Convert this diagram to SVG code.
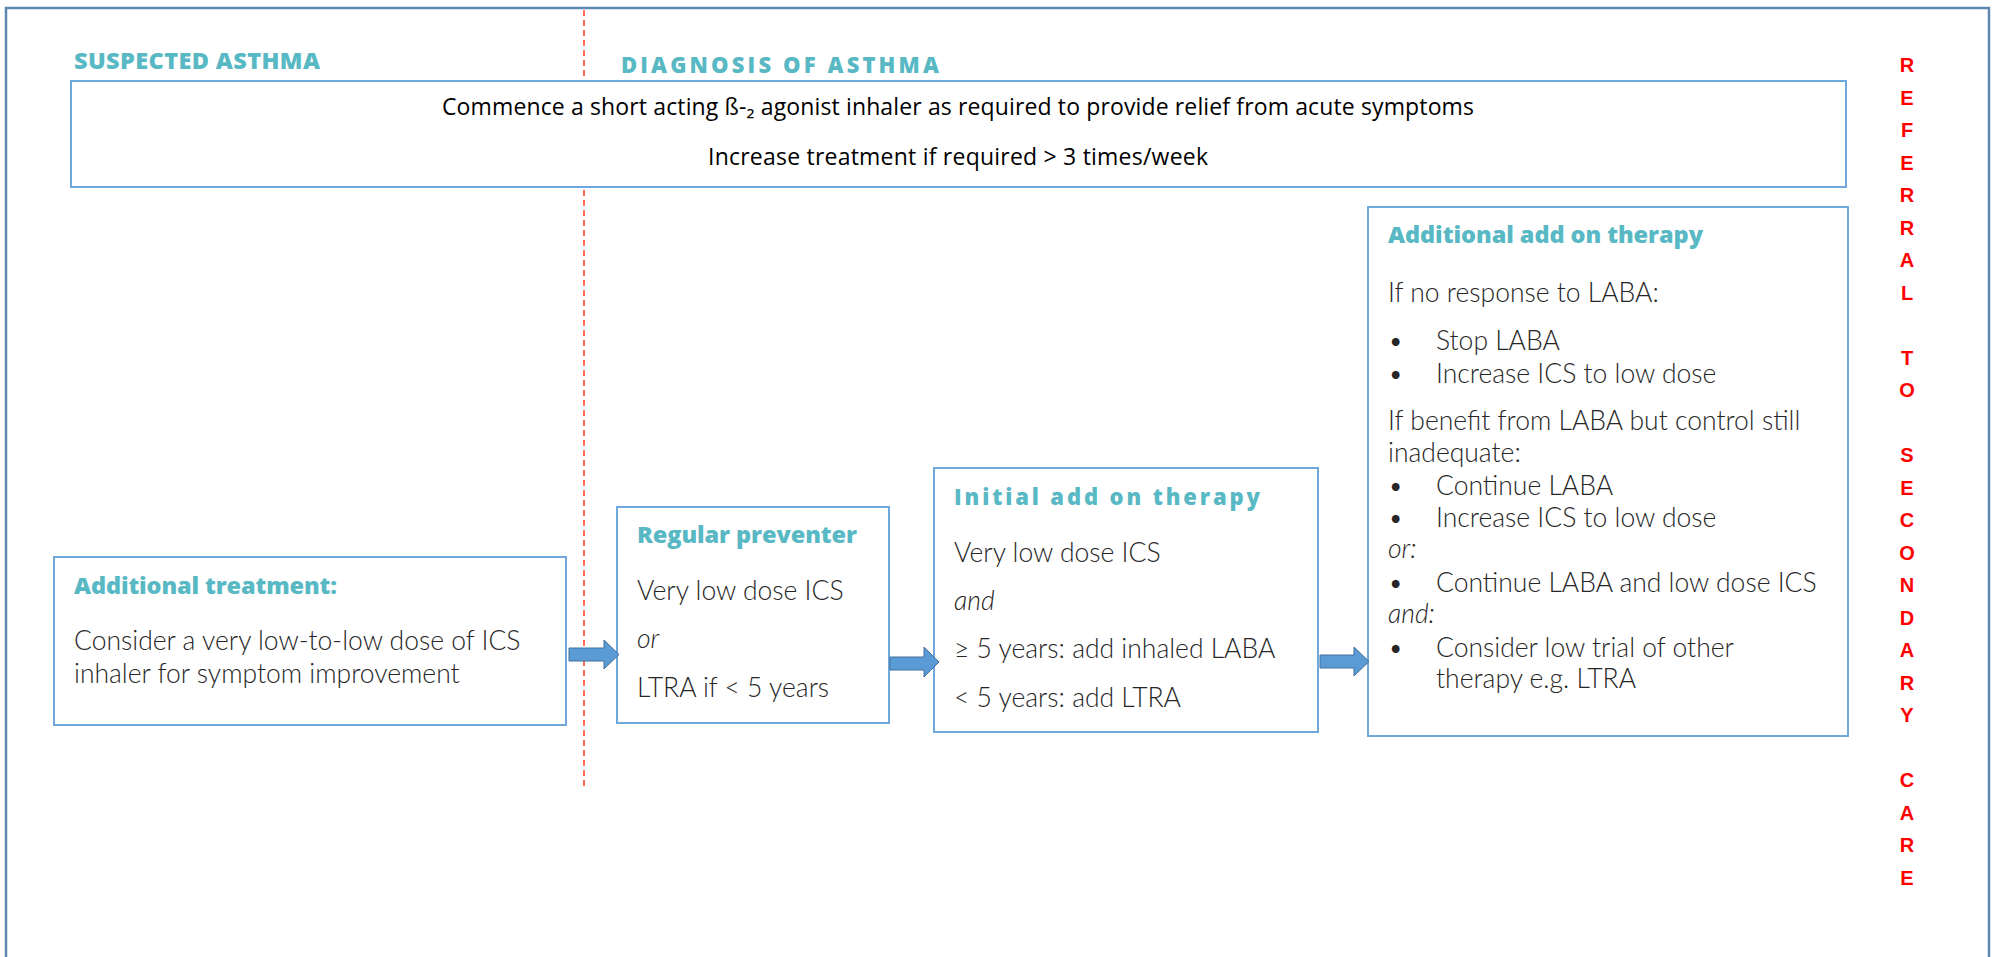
<svg xmlns="http://www.w3.org/2000/svg" width="1995" height="957" viewBox="0 0 1995 957">
<style>
.box{fill:#ffffff;stroke:#6fa8dc;stroke-width:2}
.hd{font-family:"Open Sans","Liberation Sans",sans-serif;font-weight:800;font-size:23.5px;fill:#58b8c4}
.hdw{font-family:"Open Sans","Liberation Sans",sans-serif;font-weight:800;font-size:22px;fill:#58b8c4}
.body{font-family:Lato,"Liberation Sans",sans-serif;font-weight:300;font-size:26.5px;fill:#262626}
.it{font-style:italic}
.top{font-family:"Open Sans","Liberation Sans",sans-serif;font-size:23px;fill:#000000}
.ref{font-family:"Liberation Sans",Arial,sans-serif;font-weight:700;font-size:20px;fill:#ff0000}
.arrow{fill:#5b9bd5;stroke:#41719c;stroke-width:1}
</style>
<rect x="0" y="0" width="1995" height="957" fill="#ffffff"/>
<rect id="frame" x="6" y="8" width="1983" height="960" fill="none" stroke="#5b87b0" stroke-width="2.5"/>
<line id="divider" x1="584" y1="10" x2="584" y2="787" stroke="#ff3b1f" stroke-width="1.5" stroke-dasharray="6,4"/>
<text class="hd" x="74" y="69" textLength="246">SUSPECTED ASTHMA</text>
<text class="hdw" x="621" y="73" textLength="318">DIAGNOSIS OF ASTHMA</text>
<g id="top-box">
<rect class="box" x="71" y="81" width="1775" height="106"/>
<text class="top" x="958" y="115" text-anchor="middle" textLength="1032">Commence a short acting ß-₂ agonist inhaler as required to provide relief from acute symptoms</text>
<text class="top" x="958" y="165" text-anchor="middle" textLength="500">Increase treatment if required &gt; 3 times/week</text>
</g>
<g id="additional-treatment">
<rect class="box" x="54" y="557" width="512" height="168"/>
<text class="hd" x="74" y="594" textLength="263">Additional treatment:</text>
<text class="body" x="74" y="650">Consider a very low-to-low dose of ICS</text>
<text class="body" x="74" y="683">inhaler for symptom improvement</text>
</g>
<g id="regular-preventer">
<rect class="box" x="617" y="507" width="272" height="216"/>
<text class="hd" x="637" y="543" textLength="220">Regular preventer</text>
<text class="body" x="637" y="600">Very low dose ICS</text>
<text class="body it" x="637" y="648">or</text>
<text class="body" x="637" y="697">LTRA if &lt; 5 years</text>
</g>
<g id="initial-add-on">
<rect class="box" x="934" y="468" width="384" height="264"/>
<text class="hdw" x="954" y="505" textLength="306">Initial add on therapy</text>
<text class="body" x="954" y="562">Very low dose ICS</text>
<text class="body it" x="954" y="610">and</text>
<text class="body" x="954" y="658">≥ 5 years: add inhaled LABA</text>
<text class="body" x="954" y="707">&lt; 5 years: add LTRA</text>
</g>
<g id="additional-add-on">
<rect class="box" x="1368" y="207" width="480" height="529"/>
<text class="hd" x="1388" y="243" textLength="315">Additional add on therapy</text>
<text class="body" x="1388" y="302">If no response to LABA:</text>
<text class="body" x="1388" y="350">•</text><text class="body" x="1436" y="350">Stop LABA</text>
<text class="body" x="1388" y="383">•</text><text class="body" x="1436" y="383">Increase ICS to low dose</text>
<text class="body" x="1388" y="430">If benefit from LABA but control still</text>
<text class="body" x="1388" y="462">inadequate:</text>
<text class="body" x="1388" y="495">•</text><text class="body" x="1436" y="495">Continue LABA</text>
<text class="body" x="1388" y="527">•</text><text class="body" x="1436" y="527">Increase ICS to low dose</text>
<text class="body it" x="1388" y="558">or:</text>
<text class="body" x="1388" y="592">•</text><text class="body" x="1436" y="592">Continue LABA and low dose ICS</text>
<text class="body it" x="1388" y="623">and:</text>
<text class="body" x="1388" y="657">•</text><text class="body" x="1436" y="657">Consider low trial of other</text>
<text class="body" x="1436" y="688">therapy e.g. LTRA</text>
</g>
<g id="connectors">
<polygon class="arrow" points="569,648 604,648 604,640 619,654.5 604,669 604,661 569,661"/>
<polygon class="arrow" points="890,657 924,657 924,647 939,662 924,677 924,670 890,670"/>
<polygon class="arrow" points="1320,655 1354,655 1354,647 1369,661.5 1354,676 1354,668 1320,668"/>
</g>
<g id="referral">
<text class="ref" text-anchor="middle" x="1907" y="72">R</text>
<text class="ref" text-anchor="middle" x="1907" y="104.5">E</text>
<text class="ref" text-anchor="middle" x="1907" y="137">F</text>
<text class="ref" text-anchor="middle" x="1907" y="169.5">E</text>
<text class="ref" text-anchor="middle" x="1907" y="202">R</text>
<text class="ref" text-anchor="middle" x="1907" y="234.5">R</text>
<text class="ref" text-anchor="middle" x="1907" y="267">A</text>
<text class="ref" text-anchor="middle" x="1907" y="299.5">L</text>
<text class="ref" text-anchor="middle" x="1907" y="364.5">T</text>
<text class="ref" text-anchor="middle" x="1907" y="397">O</text>
<text class="ref" text-anchor="middle" x="1907" y="462">S</text>
<text class="ref" text-anchor="middle" x="1907" y="494.5">E</text>
<text class="ref" text-anchor="middle" x="1907" y="527">C</text>
<text class="ref" text-anchor="middle" x="1907" y="559.5">O</text>
<text class="ref" text-anchor="middle" x="1907" y="592">N</text>
<text class="ref" text-anchor="middle" x="1907" y="624.5">D</text>
<text class="ref" text-anchor="middle" x="1907" y="657">A</text>
<text class="ref" text-anchor="middle" x="1907" y="689.5">R</text>
<text class="ref" text-anchor="middle" x="1907" y="722">Y</text>
<text class="ref" text-anchor="middle" x="1907" y="787">C</text>
<text class="ref" text-anchor="middle" x="1907" y="819.5">A</text>
<text class="ref" text-anchor="middle" x="1907" y="852">R</text>
<text class="ref" text-anchor="middle" x="1907" y="884.5">E</text>
</g>
</svg>
